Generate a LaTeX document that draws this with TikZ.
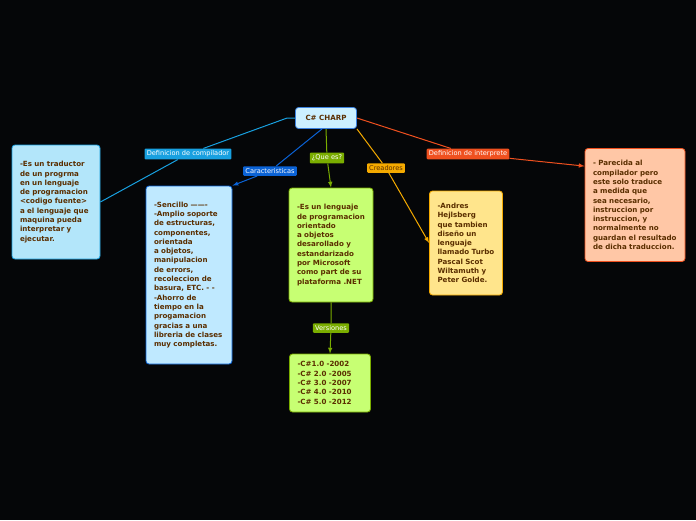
\documentclass[tikz,border=0pt]{standalone}
\usepackage{fontspec}
\setmainfont{DejaVu Sans}
\usetikzlibrary{backgrounds}
\hyphenpenalty=10000
\exhyphenpenalty=10000
\definecolor{bgc}{HTML}{050608}
\definecolor{txt}{HTML}{5A2E00}
\definecolor{cBlue}{HTML}{18A0E0}
\definecolor{cDeep}{HTML}{0A62D6}
\definecolor{cGreen}{HTML}{7AAD00}
\definecolor{cOrange}{HTML}{F5AA00}
\definecolor{cRed}{HTML}{F0501F}
\begin{document}
\begin{tikzpicture}[x=1pt,y=-1pt,
    every node/.style={font=\fontsize{7.1}{9.3}\selectfont\bfseries, text=txt},
    topicbox/.style={rounded corners=3pt, line width=0.8pt, align=left, inner sep=0pt, minimum width=#1, text width=#1-16pt},
    tagbox/.style={rounded corners=1pt, fill=#1, inner sep=2.2pt, font=\fontsize{6.6}{7}\selectfont, text=white},
    link/.style={line width=1pt, draw=#1},
    tip/.style={-latex}
  ]
  \useasboundingbox (0,0) rectangle (696,520);

  % Main nodes
  \node[rounded corners=3pt, draw=cDeep!80, fill=blue!30!cyan!20!white, line width=0.8pt,
        minimum width=61pt, minimum height=21pt] (root) at (326,118) {C\# CHARP};
  \node[topicbox=88pt, draw=cBlue, fill=cyan!30!white, minimum height=114pt] (compil) at (56,202)
    {-Es un traductor de un progrma en un lenguaje de programacion <codigo fuente> a el lenguaje que maquina pueda interpretar y ejecutar.};
  \node[topicbox=86pt, draw=cDeep, fill=blue!35!cyan!25!white, minimum height=178pt] (carac) at (189,275)
    {-Sencillo -------\\-Amplio soporte de estructuras, componentes, orientada a objetos, manipulacion de errors, recoleccion de basura, ETC. - -\\-Ahorro de tiempo en la progamacion gracias a una libreria de clases muy completas.};
  \node[topicbox=84pt, draw=cGreen, fill=green!40!yellow!55!white, minimum height=114pt] (quees) at (331,245)
    {-Es un lenguaje de programacion orientado a objetos desarollado y estandarizado por Microsoft como part de su plataforma .NET};
  \node[topicbox=81pt, draw=cGreen, fill=green!40!yellow!55!white, minimum height=58pt] (vers) at (330,383)
    {-C\#1.0 -2002\\-C\# 2.0 -2005\\-C\# 3.0 -2007\\-C\# 4.0 -2010\\-C\# 5.0 -2012};
  \node[topicbox=73pt, draw=cOrange, fill=orange!45!yellow!45!white, minimum height=104pt] (creat) at (466,243)
    {-Andres Hejlsberg que tambien diseño un lenguaje llamado Turbo Pascal Scot Wiltamuth y Peter Golde.};
  \node[topicbox=100pt, draw=cRed, fill=red!25!orange!35!white, minimum height=113pt] (interp) at (635,205)
    {- Parecida al compilador pero este solo traduce a medida que sea necesario, instruccion por instruccion, y normalmente no guardan el resultado de dicha traduccion.};

  % Tags
  \node[tagbox=cBlue] (tcompil) at (188,154) {Definicion de compilador};
  \node[tagbox=cDeep] (tcarac) at (270,171) {Caracteristicas};
  \node[tagbox=cGreen] (tquees) at (327,158) {¿Que es?};
  \node[tagbox=cOrange, text=txt] (tcreat) at (386,168) {Creadores};
  \node[tagbox=cRed] (tinterp) at (468,154) {Definicion de interprete};
  \node[tagbox=cGreen] (tvers) at (331,328) {Versiones};

  % Connectors
  \begin{pgfonlayer}{background}
    \fill[bgc] (0,0) rectangle (696,520);
    \draw[link=cBlue] (root.west) -- ++(-8,0) -- (tcompil) -- (compil.east);
    \draw[link=cDeep, tip] (root.250) -- (tcarac) -- (carac.north east);
    \draw[link=cGreen, tip] (root.south) -- (tquees) -- (quees.north);
    \draw[link=cOrange, tip] (root.south east) -- (tcreat) -- (creat.west);
    \draw[link=cRed, tip] (root.east) -- (tinterp) -- ([yshift=-18pt]interp.north west);
    \draw[link=cGreen, tip] (quees.south) -- (tvers) -- (vers.north);
  \end{pgfonlayer}
\end{tikzpicture}
\end{document}
